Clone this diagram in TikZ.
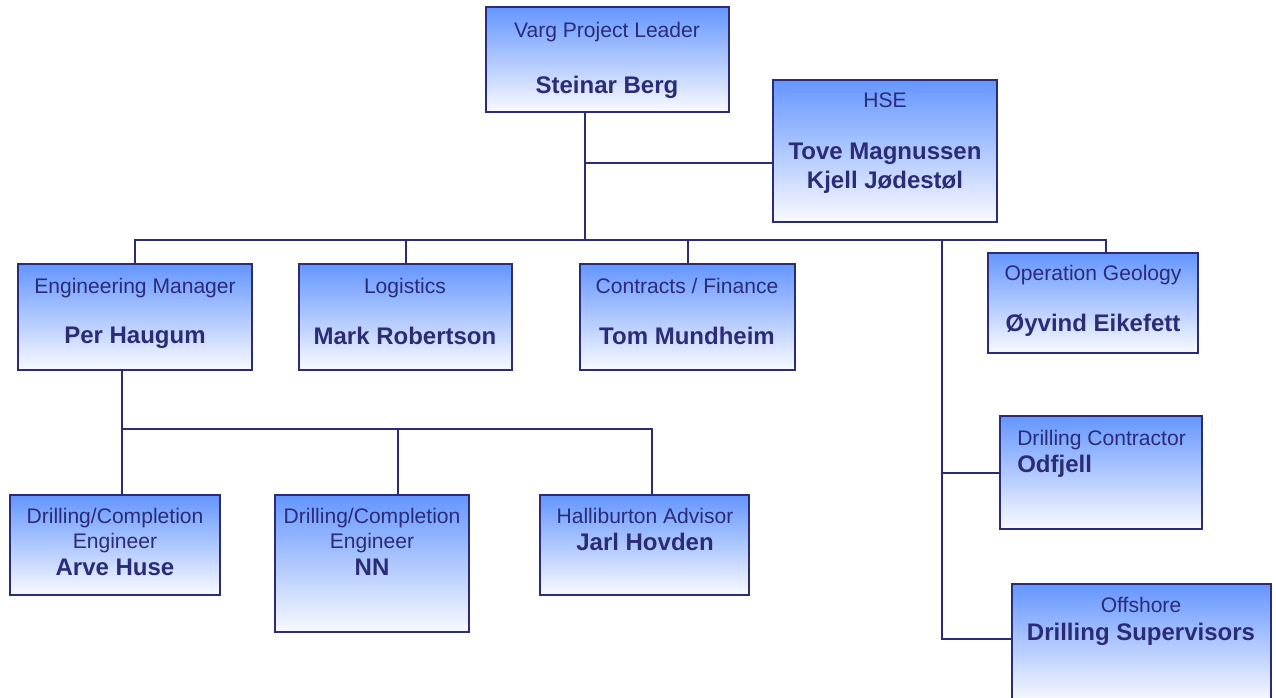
\documentclass[tikz,border=0pt]{standalone}
\usepackage{fontspec}
\setmainfont{Liberation Sans}
\definecolor{navy}{RGB}{43,43,120}
\definecolor{boxtop}{RGB}{100,150,255}
\definecolor{boxmid}{RGB}{196,212,255}
\definecolor{boxbot}{RGB}{250,250,255}
\newcommand{\roletext}{\fontsize{15.8}{18.75}\selectfont}
\newcommand{\nametext}{\fontsize{18}{21.75}\selectfont\bfseries}
\begin{document}
\begin{tikzpicture}[x=0.75pt,y=0.75pt,yscale=-1,xscale=1,
	orgbox/.style n args={2}{draw=navy, line width=1.5pt, inner sep=0pt,
		top color=boxtop, middle color=boxmid, bottom color=boxbot,
		minimum width=#1*0.75pt, minimum height=#2*0.75pt},
	link/.style={draw=navy, line width=1.5pt},
	role/.style={text=navy, inner sep=0.75pt, align=center, font=\roletext},
	person/.style={text=navy, inner sep=0.75pt, align=center, font=\nametext}]
		\useasboundingbox (0,0) rectangle (1276,697);
		
		% Boxes
		\node [orgbox={243}{105}] (lead) at (607.5,59.5) {};
		\node [orgbox={224}{142}] (hse) at (885,151) {};
		\node [orgbox={234}{106}] (engman) at (135,317) {};
		\node [orgbox={213}{106}] (logi) at (405.5,317) {};
		\node [orgbox={215}{106}] (contr) at (687.5,317) {};
		\node [orgbox={210}{100}] (opgeo) at (1093,303) {};
		\node [orgbox={202}{113}] (drillcon) at (1101,472.5) {};
		\node [orgbox={259}{118}] (offsh) at (1141.5,643) {};
		\node [orgbox={210}{100}] (arve) at (115,545) {};
		\node [orgbox={194}{137}] (nn) at (372,563.5) {};
		\node [orgbox={209}{100}] (halli) at (644.5,545) {};
		
		% Joints
		\coordinate (hub) at (585,240);
		\coordinate (hsejoin) at (585,163);
		\coordinate (trunk) at (942,240);
		\coordinate (sub) at (122,429);
		
		% Lines from the leader
		\draw [link] (lead.south -| hub) -- (hub);
		\draw [link] (hsejoin) -- (hsejoin -| hse.west);
		\draw [link] (engman.north) |- (hub) -| ([xshift=9.75pt]opgeo.north);
		\draw [link] (logi.north) -- (logi.north |- hub);
		\draw [link] (contr.north) -- (contr.north |- hub);
		\draw [link] (trunk) |- ([yshift=-3pt]offsh.west);
		\draw [link] (trunk |- drillcon.west) -- (drillcon.west);
		% Lines from the engineering manager
		\draw [link] (engman.south -| sub) -- (sub) -| ([xshift=5.6pt]halli.north);
		\draw [link] (sub) -- (sub |- arve.north);
		\draw [link] ([xshift=19.5pt]nn.north) -- ([xshift=19.5pt]nn.north |- sub);
		
		% Text Node
		\node [role] (leadrole) at (607,32) {Varg Project Leader};
		\node [person] (leadname) at (607,87) {Steinar Berg};
		% Text Node
		\node [role] (hserole) at (885,100) {HSE};
		\node [person] (hsename) at (885,168) {Tove Magnussen\\Kjell Jødestøl};
		% Text Node
		\node [role] (engmanrole) at (135,288) {Engineering Manager};
		\node [person] (engmanname) at (135,338) {Per Haugum};
		% Text Node
		\node [role] (logirole) at (405,288) {Logistics};
		\node [person] (loginame) at (405,336) {Mark Robertson};
		% Text Node
		\node [role] (contrrole) at (687,286) {Contracts / Finance};
		\node [person] (contrname) at (687,336) {Tom Mundheim};
		% Text Node
		\node [role] (opgeorole) at (1093,275) {Operation Geology};
		\node [person] (opgeoname) at (1093,325) {Øyvind Eikefett};
		% Text Node
		\node [role, anchor=west] (drillconrole) at (1016,440) {Drilling Contractor};
		\node [person, anchor=west] (drillconname) at (1016,466) {Odfjell};
		% Text Node
		\node [role] (offshrole) at (1141,605) {Offshore};
		\node [person] (offshname) at (1141,634) {Drilling Supervisors};
		% Text Node
		\node [role] (arverole) at (115,530.5) {Drilling/Completion\\Engineer};
		\node [person] (arvename) at (115,567) {Arve Huse};
		% Text Node
		\node [role] (nnrole) at (372,530.5) {Drilling/Completion\\Engineer};
		\node [person] (nnname) at (372,567) {NN};
		% Text Node
		\node [role] (hallirole) at (645,516) {Halliburton Advisor};
		\node [person] (halliname) at (645,542) {Jarl Hovden};
	\end{tikzpicture}
\end{document}
